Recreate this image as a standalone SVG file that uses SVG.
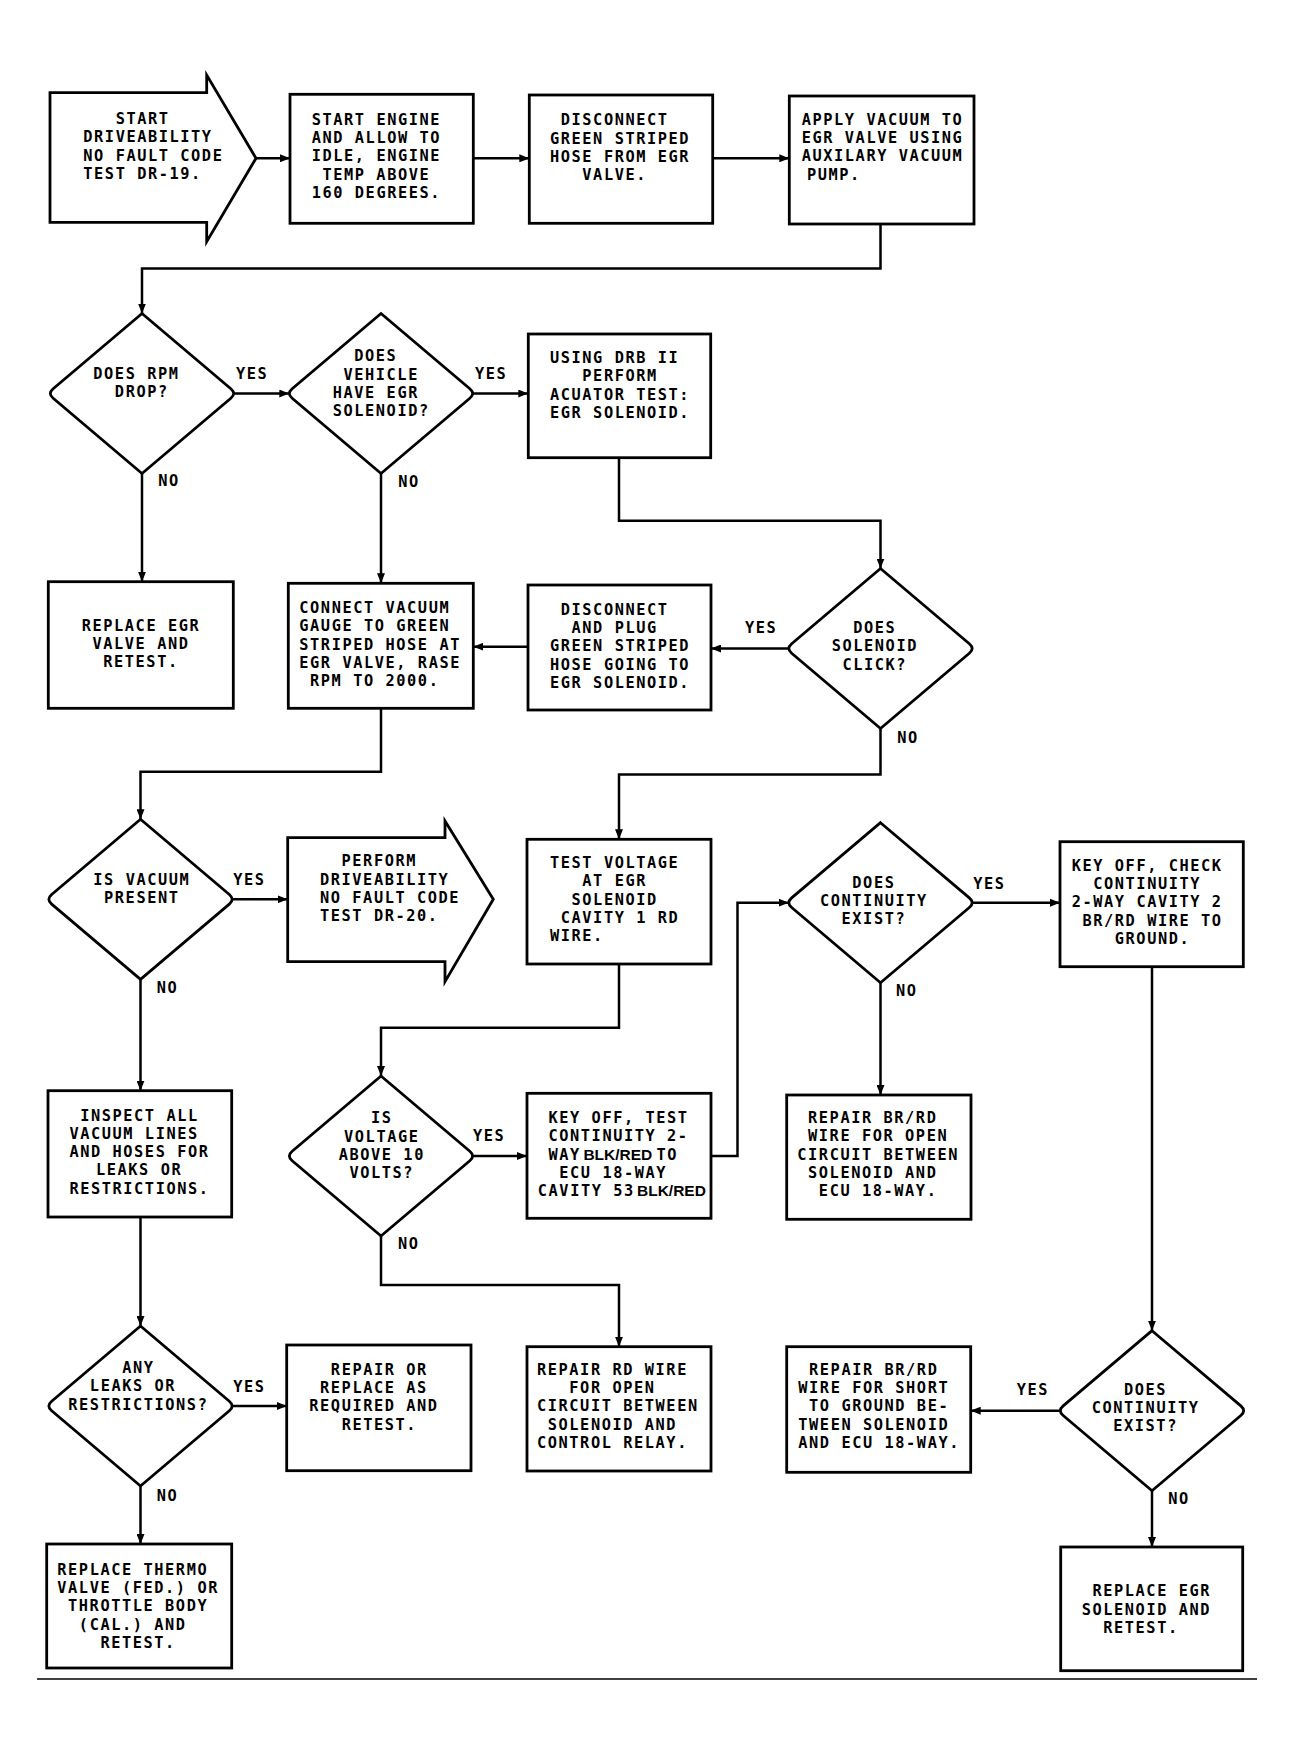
<svg xmlns="http://www.w3.org/2000/svg" width="1295" height="1755" viewBox="0 0 1295 1755">
<style>
.box{fill:#fff;stroke:#000;stroke-width:2.8;stroke-linejoin:miter}
.ln{fill:none;stroke:#000;stroke-width:2.5}
.t{font-family:"DejaVu Sans Mono",monospace;font-size:15.3px;font-weight:bold;letter-spacing:1.57px;fill:#000}
.b{font-family:"Liberation Sans",Arial,sans-serif;font-weight:bold;font-size:15.5px;letter-spacing:0}
</style>
<defs>
<marker id="ah" viewBox="0 0 10 8" refX="10" refY="4" markerWidth="10" markerHeight="8" markerUnits="userSpaceOnUse" orient="auto"><path d="M0,0 L10,4 L0,8 z" fill="#000"/></marker>
</defs>
<rect width="1295" height="1755" fill="#fff"/>

<g id="connectors">
<g class="ln" marker-end="url(#ah)">
<path d="M256,158.3 H290"/>
<path d="M473.3,158.3 H529.3"/>
<path d="M712.7,158.3 H789.3"/>
<path d="M880.5,224 V268.5 H142 V313.5"/>
<path d="M233.7,393.5 H289.3"/>
<path d="M472.7,393.5 H528.3"/>
<path d="M142,473.5 V581.7"/>
<path d="M381,473.5 V583.3"/>
<path d="M619,457.7 V520.7 H880.5 V568.5"/>
<path d="M788.8,648.5 H711"/>
<path d="M528,646.7 H473.3"/>
<path d="M381,708.3 V771.7 H140.5 V819.3"/>
<path d="M232.2,899.3 H287.7"/>
<path d="M880.5,728.5 V774.6 H619 V839.3"/>
<path d="M140.5,979.3 V1090.7"/>
<path d="M619,964 V1027.7 H381 V1076"/>
<path d="M472.7,1156 H527"/>
<path d="M711,1156 H737.5 V902.7 H788.8"/>
<path d="M972.2,902.7 H1060"/>
<path d="M880.5,982.7 V1095"/>
<path d="M1152,966.7 V1330.7"/>
<path d="M381,1236 V1285 H619 V1346.7"/>
<path d="M140.5,1217 V1326"/>
<path d="M232.2,1406 H286.7"/>
<path d="M140.5,1486 V1544"/>
<path d="M1060.3,1410.7 H970.7"/>
<path d="M1152,1490.7 V1547"/>
</g>
<g class="t" transform="translate(0 -1.9)">
<text x="236" y="380.7">YES</text>
<text x="475" y="381">YES</text>
<text x="158.3" y="488.3">NO</text>
<text x="398.3" y="489.3">NO</text>
<text x="745" y="635">YES</text>
<text x="897.3" y="745">NO</text>
<text x="233.3" y="886.7">YES</text>
<text x="156.7" y="995">NO</text>
<text x="973.3" y="890.7">YES</text>
<text x="896" y="998.3">NO</text>
<text x="473" y="1143">YES</text>
<text x="398" y="1251">NO</text>
<text x="233.3" y="1394">YES</text>
<text x="156.7" y="1503.3">NO</text>
<text x="1016.7" y="1396.7">YES</text>
<text x="1168.3" y="1506">NO</text>
</g>
</g>

<g id="start">
<path class="box" d="M50,92.7 H206.7 V75 L256,158.3 L206.7,241.7 V222.3 H50 Z"/>
<g class="t" transform="translate(83.3 -1.9)">
<text><tspan x="32.34" y="125.7">START</tspan><tspan x="0" y="144.1">DRIVEABILITY</tspan><tspan x="0" y="162.5">NO FAULT CODE</tspan><tspan x="0" y="180.9">TEST DR-19.</tspan></text>
</g>
</g>

<g id="start-engine">
<rect class="box" x="290" y="94.3" width="183.3" height="129"/>
<g class="t" transform="translate(311.7 -1.9)">
<text><tspan x="0" y="126.7">START ENGINE</tspan><tspan x="0" y="145">AND ALLOW TO</tspan><tspan x="0" y="163.3">IDLE, ENGINE</tspan><tspan x="10.78" y="181.6">TEMP ABOVE</tspan><tspan x="0" y="199.9">160 DEGREES.</tspan></text>
</g>
</g>

<g id="disconnect-hose">
<rect class="box" x="529.3" y="95" width="183.4" height="128.3"/>
<g class="t" transform="translate(550 -1.9)">
<text><tspan x="10.78" y="127.2">DISCONNECT</tspan><tspan x="0" y="145.5">GREEN STRIPED</tspan><tspan x="0" y="163.8">HOSE FROM EGR</tspan><tspan x="32.34" y="182.1">VALVE.</tspan></text>
</g>
</g>

<g id="apply-vacuum">
<rect class="box" x="789.3" y="96" width="184.7" height="128"/>
<g class="t" transform="translate(801.7 -1.9)">
<text><tspan x="0" y="126.7">APPLY VACUUM TO</tspan><tspan x="0" y="145">EGR VALVE USING</tspan><tspan x="0" y="163.3">AUXILARY VACUUM</tspan><tspan x="5.3" y="181.6">PUMP.</tspan></text>
</g>
</g>

<g id="rpm-drop">
<path class="box" d="M142,313.5 l88.83,75.2 q5.67,4.8 0,9.6 l-88.83,75.2 l-88.83,-75.2 q-5.67,-4.8 0,-9.6 z"/>
<g class="t" transform="translate(93.3 -1.9)">
<text><tspan x="0" y="380.7">DOES RPM</tspan><tspan x="21.56" y="399">DROP?</tspan></text>
</g>
</g>

<g id="egr-solenoid">
<path class="box" d="M381,313.5 l88.83,75.2 q5.67,4.8 0,9.6 l-88.83,75.2 l-88.83,-75.2 q-5.67,-4.8 0,-9.6 z"/>
<g class="t" transform="translate(332.7 -1.9)">
<text><tspan x="21.56" y="363.4">DOES</tspan><tspan x="10.78" y="381.7">VEHICLE</tspan><tspan x="0" y="400">HAVE EGR</tspan><tspan x="0" y="418.3">SOLENOID?</tspan></text>
</g>
</g>

<g id="drb-test">
<rect class="box" x="528.3" y="334" width="182.4" height="123.7"/>
<g class="t" transform="translate(550 -1.9)">
<text><tspan x="0" y="365">USING DRB II</tspan><tspan x="32.34" y="383.3">PERFORM</tspan><tspan x="0" y="401.6">ACUATOR TEST:</tspan><tspan x="0" y="419.9">EGR SOLENOID.</tspan></text>
</g>
</g>

<g id="replace-egr-valve">
<rect class="box" x="48.3" y="581.7" width="185" height="126.6"/>
<g class="t" transform="translate(81.7 -1.9)">
<text><tspan x="0" y="632.7">REPLACE EGR</tspan><tspan x="10.78" y="651">VALVE AND</tspan><tspan x="21.56" y="669.3">RETEST.</tspan></text>
</g>
</g>

<g id="connect-gauge">
<rect class="box" x="288.3" y="583.3" width="185" height="125"/>
<g class="t" transform="translate(299.3 -1.9)">
<text><tspan x="0" y="615">CONNECT VACUUM</tspan><tspan x="0" y="633.3">GAUGE TO GREEN</tspan><tspan x="0" y="651.6">STRIPED HOSE AT</tspan><tspan x="0" y="669.9">EGR VALVE, RASE</tspan><tspan x="10.78" y="688.2">RPM TO 2000.</tspan></text>
</g>
</g>

<g id="disconnect-plug">
<rect class="box" x="528" y="585" width="183" height="125"/>
<g class="t" transform="translate(550 -1.9)">
<text><tspan x="10.78" y="616.7">DISCONNECT</tspan><tspan x="21.56" y="635">AND PLUG</tspan><tspan x="0" y="653.3">GREEN STRIPED</tspan><tspan x="0" y="671.6">HOSE GOING TO</tspan><tspan x="0" y="689.9">EGR SOLENOID.</tspan></text>
</g>
</g>

<g id="solenoid-click">
<path class="box" d="M880.5,568.5 l88.83,75.2 q5.67,4.8 0,9.6 l-88.83,75.2 l-88.83,-75.2 q-5.67,-4.8 0,-9.6 z"/>
<g class="t" transform="translate(831.7 -1.9)">
<text><tspan x="21.56" y="635">DOES</tspan><tspan x="0" y="653.3">SOLENOID</tspan><tspan x="10.78" y="671.6">CLICK?</tspan></text>
</g>
</g>

<g id="vacuum-present">
<path class="box" d="M140.5,819.3 l88.83,75.2 q5.67,4.8 0,9.6 l-88.83,75.2 l-88.83,-75.2 q-5.67,-4.8 0,-9.6 z"/>
<g class="t" transform="translate(93.3 -1.9)">
<text><tspan x="0" y="886.7">IS VACUUM</tspan><tspan x="10.78" y="905">PRESENT</tspan></text>
</g>
</g>

<g id="perform-dr20">
<path class="box" d="M287.7,837.7 H445 V821 L493.3,899.3 L445,981.7 V961.7 H287.7 Z"/>
<g class="t" transform="translate(320 -1.9)">
<text><tspan x="21.56" y="868.3">PERFORM</tspan><tspan x="0" y="886.6">DRIVEABILITY</tspan><tspan x="0" y="904.9">NO FAULT CODE</tspan><tspan x="0" y="923.2">TEST DR-20.</tspan></text>
</g>
</g>

<g id="test-voltage">
<rect class="box" x="527" y="839.3" width="184" height="124.7"/>
<g class="t" transform="translate(550 -1.9)">
<text><tspan x="0" y="870">TEST VOLTAGE</tspan><tspan x="32.34" y="888.3">AT EGR</tspan><tspan x="21.56" y="906.6">SOLENOID</tspan><tspan x="10.78" y="924.9">CAVITY 1 RD</tspan><tspan x="0" y="943.2">WIRE.</tspan></text>
</g>
</g>

<g id="continuity-1">
<path class="box" d="M880.5,822.7 l88.83,75.2 q5.67,4.8 0,9.6 l-88.83,75.2 l-88.83,-75.2 q-5.67,-4.8 0,-9.6 z"/>
<g class="t" transform="translate(820 -1.9)">
<text><tspan x="32.34" y="889.7">DOES</tspan><tspan x="0" y="908">CONTINUITY</tspan><tspan x="21.56" y="926.3">EXIST?</tspan></text>
</g>
</g>

<g id="key-off-check">
<rect class="box" x="1060" y="841.7" width="183.3" height="125"/>
<g class="t" transform="translate(1071.7 -1.9)">
<text><tspan x="0" y="872.7">KEY OFF, CHECK</tspan><tspan x="21.56" y="891">CONTINUITY</tspan><tspan x="0" y="909.3">2-WAY CAVITY 2</tspan><tspan x="10.78" y="927.6">BR/RD WIRE TO</tspan><tspan x="43.12" y="945.9">GROUND.</tspan></text>
</g>
</g>

<g id="inspect">
<rect class="box" x="48" y="1090.7" width="183.7" height="126.3"/>
<g class="t" transform="translate(69.4 -1.9)">
<text><tspan x="10.78" y="1122.5">INSPECT ALL</tspan><tspan x="0" y="1140.8">VACUUM LINES</tspan><tspan x="0" y="1159.1">AND HOSES FOR</tspan><tspan x="26.6" y="1177.4">LEAKS OR</tspan><tspan x="0" y="1195.7">RESTRICTIONS.</tspan></text>
</g>
</g>

<g id="voltage-above">
<path class="box" d="M381,1076 l88.83,75.2 q5.67,4.8 0,9.6 l-88.83,75.2 l-88.83,-75.2 q-5.67,-4.8 0,-9.6 z"/>
<g class="t" transform="translate(381.8 -1.9)">
<text text-anchor="middle"><tspan x="0" y="1125.2">IS</tspan><tspan x="0" y="1143.5">VOLTAGE</tspan><tspan x="0" y="1161.8">ABOVE 10</tspan><tspan x="0" y="1180.1">VOLTS?</tspan></text>
</g>
</g>

<g id="key-off-test">
<rect class="box" x="527" y="1093.3" width="184" height="125"/>
<g class="t" transform="translate(548.5 -1.9)">
<text><tspan x="0" y="1125">KEY OFF, TEST</tspan><tspan x="0" y="1143.3">CONTINUITY 2-</tspan><tspan x="0" y="1161.6">WAY</tspan><tspan class="b" x="34.9" y="1161.6">BLK/RED</tspan><tspan x="108.1" y="1161.6">TO</tspan><tspan x="10.78" y="1179.9">ECU 18-WAY</tspan><tspan x="-10.7" y="1198.2">CAVITY 53</tspan><tspan class="b" x="88.5" y="1198.2">BLK/RED</tspan></text>
</g>
</g>

<g id="repair-open-ecu">
<rect class="box" x="786.7" y="1095" width="184.3" height="124.3"/>
<g class="t" transform="translate(797.3 -1.9)">
<text><tspan x="10.78" y="1125">REPAIR BR/RD</tspan><tspan x="10.78" y="1143.3">WIRE FOR OPEN</tspan><tspan x="0" y="1161.6">CIRCUIT BETWEEN</tspan><tspan x="10.78" y="1179.9">SOLENOID AND</tspan><tspan x="21.56" y="1198.2">ECU 18-WAY.</tspan></text>
</g>
</g>

<g id="leaks">
<path class="box" d="M140.5,1326 l88.83,75.2 q5.67,4.8 0,9.6 l-88.83,75.2 l-88.83,-75.2 q-5.67,-4.8 0,-9.6 z"/>
<g class="t" transform="translate(68.3 -1.9)">
<text><tspan x="53.9" y="1375">ANY</tspan><tspan x="21.56" y="1393.3">LEAKS OR</tspan><tspan x="0" y="1411.6">RESTRICTIONS?</tspan></text>
</g>
</g>

<g id="repair-replace">
<rect class="box" x="286.7" y="1345" width="184.3" height="125.7"/>
<g class="t" transform="translate(309.3 -1.9)">
<text><tspan x="21.56" y="1376.7">REPAIR OR</tspan><tspan x="10.78" y="1395">REPLACE AS</tspan><tspan x="0" y="1413.3">REQUIRED AND</tspan><tspan x="32.34" y="1431.6">RETEST.</tspan></text>
</g>
</g>

<g id="repair-rd">
<rect class="box" x="527" y="1346.7" width="184" height="124.3"/>
<g class="t" transform="translate(537 -1.9)">
<text><tspan x="0" y="1376.7">REPAIR RD WIRE</tspan><tspan x="32.34" y="1395">FOR OPEN</tspan><tspan x="0" y="1413.3">CIRCUIT BETWEEN</tspan><tspan x="10.78" y="1431.6">SOLENOID AND</tspan><tspan x="0" y="1449.9">CONTROL RELAY.</tspan></text>
</g>
</g>

<g id="continuity-2">
<path class="box" d="M1152,1330.7 l88.83,75.2 q5.67,4.8 0,9.6 l-88.83,75.2 l-88.83,-75.2 q-5.67,-4.8 0,-9.6 z"/>
<g class="t" transform="translate(1091.7 -1.9)">
<text><tspan x="32.34" y="1396.7">DOES</tspan><tspan x="0" y="1415">CONTINUITY</tspan><tspan x="21.56" y="1433.3">EXIST?</tspan></text>
</g>
</g>

<g id="repair-short">
<rect class="box" x="786.7" y="1346.7" width="184" height="125.6"/>
<g class="t" transform="translate(798.3 -1.9)">
<text><tspan x="10.78" y="1376.7">REPAIR BR/RD</tspan><tspan x="0" y="1395">WIRE FOR SHORT</tspan><tspan x="10.78" y="1413.3">TO GROUND BE-</tspan><tspan x="0" y="1431.6">TWEEN SOLENOID</tspan><tspan x="0" y="1449.9">AND ECU 18-WAY.</tspan></text>
</g>
</g>

<g id="replace-thermo">
<rect class="box" x="46.7" y="1544" width="185" height="124"/>
<g class="t" transform="translate(57.3 -1.9)">
<text><tspan x="0" y="1576.7">REPLACE THERMO</tspan><tspan x="0" y="1595">VALVE (FED.) OR</tspan><tspan x="10.78" y="1613.3">THROTTLE BODY</tspan><tspan x="21.56" y="1631.6">(CAL.) AND</tspan><tspan x="43.12" y="1649.9">RETEST.</tspan></text>
</g>
</g>

<g id="replace-egr-solenoid">
<rect class="box" x="1060.7" y="1547" width="182" height="123.7"/>
<g class="t" transform="translate(1081.7 -1.9)">
<text><tspan x="10.78" y="1598.3">REPLACE EGR</tspan><tspan x="0" y="1616.6">SOLENOID AND</tspan><tspan x="21.56" y="1634.9">RETEST.</tspan></text>
</g>
</g>

<path d="M37,1679 H1257" stroke="#000" stroke-width="1.5" fill="none"/>
</svg>
